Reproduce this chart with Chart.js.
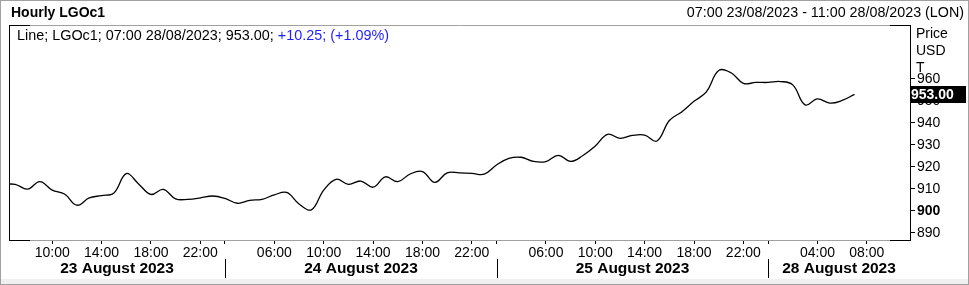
<!DOCTYPE html>
<html>
<head>
<meta charset="utf-8">
<script src="https://cdn.jsdelivr.net/npm/chart.js@4.4.0/dist/chart.umd.min.js"></script>
<style>
  html, body { margin: 0; padding: 0; background: #fff; }
  canvas { display: block; }
</style>
</head>
<body>
<canvas id="chart" width="969" height="285"></canvas>
<script>
// hourly bars (London time), incl. empty slots to 11:00 on the 28th
const times = [
  '23/08 06:00',
  '23/08 07:00','23/08 08:00','23/08 09:00','23/08 10:00','23/08 11:00','23/08 12:00','23/08 13:00','23/08 14:00',
  '23/08 15:00','23/08 16:00','23/08 17:00','23/08 18:00','23/08 19:00','23/08 20:00','23/08 21:00','23/08 22:00','23/08 23:00',
  '24/08 02:00','24/08 03:00','24/08 04:00','24/08 05:00','24/08 06:00','24/08 07:00','24/08 08:00','24/08 09:00',
  '24/08 10:00','24/08 11:00','24/08 12:00','24/08 13:00','24/08 14:00','24/08 15:00','24/08 16:00','24/08 17:00',
  '24/08 18:00','24/08 19:00','24/08 20:00','24/08 21:00','24/08 22:00','24/08 23:00',
  '25/08 02:00','25/08 03:00','25/08 04:00','25/08 05:00','25/08 06:00','25/08 07:00','25/08 08:00','25/08 09:00',
  '25/08 10:00','25/08 11:00','25/08 12:00','25/08 13:00','25/08 14:00','25/08 15:00','25/08 16:00','25/08 17:00',
  '25/08 18:00','25/08 19:00','25/08 20:00','25/08 21:00','25/08 22:00','25/08 23:00',
  '28/08 00:00','28/08 01:00','28/08 02:00','28/08 03:00','28/08 04:00','28/08 05:00','28/08 06:00','28/08 07:00',
  '28/08 08:00','28/08 09:00','28/08 10:00','28/08 11:00'
];

// LGOc1 close per bar (USD/T)
const prices = [
  912.0,
  912.1, 909.9, 913.3, 909.5, 907.7, 902.6, 905.9, 907.0, 908.2, 917.0, 912.3, 907.5, 909.8, 905.5, 905.3, 905.9, 906.8,
  905.7, 903.5, 904.8, 905.3, 907.3, 908.4, 903.2, 900.5, 909.5, 914.4, 912.1, 913.6, 910.8, 915.5, 913.3, 916.8,
  917.9, 913.0, 917.3, 917.3, 917.1, 916.7,
  920.9, 923.9, 924.4, 922.5, 922.4, 925.3, 922.5, 925.2, 929.5, 934.8, 933.0, 934.3, 934.5, 931.8, 941.1, 945.0,
  949.8, 954.1, 963.8, 962.8, 958.0, 958.4,
  958.4, 958.8, 957.3, 948.2, 950.9, 949.0, 950.2, 953.0
];

const xTicks = [
  '23/08 10:00','23/08 14:00','23/08 18:00','23/08 22:00',
  '24/08 06:00','24/08 10:00','24/08 14:00','24/08 18:00','24/08 22:00',
  '25/08 06:00','25/08 10:00','25/08 14:00','25/08 18:00','25/08 22:00',
  '28/08 04:00','28/08 08:00'
];
const daySeparators = ['24/08 02:00', '25/08 02:00', '28/08 00:00'];
const dayLabels = ['23 August 2023', '24 August 2023', '25 August 2023', '28 August 2023'];
const yTicks = [890, 900, 910, 920, 930, 940, 950, 960];

const firstShown = '23/08 07:00';
const lastPrice = 953.00;
const FONT = 'Arial, "Liberation Sans", sans-serif';

// frame, titles, day labels and the last-price box
const decor = {
  id: 'decor',
  beforeDraw(chart) {
    const ctx = chart.ctx;
    ctx.save();
    ctx.fillStyle = '#fff';
    ctx.fillRect(0, 0, chart.width, chart.height);
    ctx.restore();
  },
  afterDraw(chart) {
    const { ctx, chartArea: a, scales: { x, y } } = chart;
    ctx.save();

    // plot frame: grey top/bottom with black corners, black left edge
    ctx.lineWidth = 1;
    ctx.strokeStyle = '#a0a0a0';
    ctx.beginPath();
    ctx.moveTo(a.left, a.top + 0.5); ctx.lineTo(a.right, a.top + 0.5);
    ctx.moveTo(a.left, a.bottom + 0.5); ctx.lineTo(a.right, a.bottom + 0.5);
    ctx.stroke();
    ctx.strokeStyle = '#000';
    ctx.beginPath();
    ctx.moveTo(a.left + 0.5, a.top); ctx.lineTo(a.left + 0.5, a.bottom + 1);
    ctx.moveTo(a.left, a.top + 0.5); ctx.lineTo(a.left + 21, a.top + 0.5);
    ctx.moveTo(a.left, a.bottom + 0.5); ctx.lineTo(a.left + 21, a.bottom + 0.5);
    ctx.moveTo(a.right - 20, a.top + 0.5); ctx.lineTo(a.right, a.top + 0.5);
    ctx.moveTo(a.right - 20, a.bottom + 0.5); ctx.lineTo(a.right, a.bottom + 0.5);
    ctx.stroke();

    // header
    ctx.textBaseline = 'middle';
    ctx.fillStyle = '#000';
    ctx.font = 'bold 14px ' + FONT;
    ctx.textAlign = 'left';
    ctx.fillText('Hourly LGOc1', 11, 13);
    ctx.font = '14.3px ' + FONT;
    ctx.textAlign = 'right';
    ctx.fillText('07:00 23/08/2023 - 11:00 28/08/2023 (LON)', 964, 13);

    // in-chart legend line
    ctx.textAlign = 'left';
    ctx.font = '14.4px ' + FONT;
    const part1 = 'Line; LGOc1; 07:00 28/08/2023; 953.00; ';
    ctx.fillText(part1, 17, 36);
    ctx.fillStyle = '#1e1eff';
    ctx.fillText('+10.25; (+1.09%)', 17 + ctx.measureText(part1).width, 36);

    // axis unit
    ctx.fillStyle = '#000';
    ctx.font = '14px ' + FONT;
    ctx.fillText('Price', 916, 34);
    ctx.fillText('USD', 916, 51);
    ctx.fillText('T', 916, 68);

    // last price box
    const py = Math.round(y.getPixelForValue(lastPrice));
    ctx.fillStyle = '#000';
    ctx.fillRect(a.right, py - 8, 56, 17);
    ctx.fillStyle = '#fff';
    ctx.font = 'bold 14px ' + FONT;
    ctx.fillText(lastPrice.toFixed(2), a.right + 1, py + 1);

    // day separators and day labels
    const seps = daySeparators.map(t => Math.round(x.getPixelForValue(times.indexOf(t))));
    ctx.strokeStyle = '#000';
    ctx.beginPath();
    seps.forEach(px => { ctx.moveTo(px + 0.5, 259); ctx.lineTo(px + 0.5, 278); });
    ctx.stroke();
    const edges = [a.left, ...seps, a.right];
    ctx.font = 'bold 15.5px ' + FONT;
    ctx.fillStyle = '#000';
    ctx.textAlign = 'center';
    dayLabels.forEach((d, i) => ctx.fillText(d, (edges[i] + edges[i + 1]) / 2, 269));

    // bottom strip and outer border
    ctx.fillStyle = '#f0f0f0';
    ctx.fillRect(0, 279, chart.width, chart.height - 279);
    ctx.strokeStyle = '#a0a0a0';
    ctx.strokeRect(0.5, 0.5, chart.width - 1, chart.height - 1);
    ctx.restore();
  }
};

new Chart(document.getElementById('chart'), {
  type: 'line',
  data: {
    labels: times,
    datasets: [{
      data: prices,
      borderColor: '#000',
      borderWidth: 1.3,
      pointRadius: 0,
      tension: 0.4,
      fill: false
    }]
  },
  options: {
    responsive: false,
    animation: false,
    layout: { padding: { top: 25, left: 9, right: 0, bottom: 0 } },
    plugins: { legend: { display: false }, tooltip: { enabled: false } },
    scales: {
      x: {
        type: 'category',
        min: firstShown,
        offset: true,
        border: { display: false },
        grid: { drawOnChartArea: false, offset: false, tickLength: 4, tickColor: '#000' },
        afterBuildTicks(scale) {
          const keep = new Set([...xTicks, ...daySeparators].map(t => times.indexOf(t)));
          scale.ticks = scale.ticks.filter(t => keep.has(t.value));
        },
        afterFit(scale) { scale.height = 45; },
        ticks: {
          autoSkip: false,
          maxRotation: 0,
          padding: 1,
          color: '#000',
          font: { family: FONT, size: 14 },
          callback(v) {
            const t = times[v];
            return xTicks.includes(t) ? t.slice(6) : '';
          }
        }
      },
      y: {
        position: 'right',
        min: 886.8,
        max: 984.5,
        border: { display: true, color: '#000' },
        grid: { drawOnChartArea: false, tickLength: 5, tickColor: '#000' },
        afterBuildTicks(scale) { scale.ticks = yTicks.map(v => ({ value: v })); },
        afterFit(scale) { scale.width = 59; },
        ticks: {
          padding: 2,
          color: '#000',
          font: ctx => ({ family: FONT, size: 14, weight: ctx.tick && ctx.tick.value === 900 ? 'bold' : 'normal' }),
          callback: v => String(v)
        }
      }
    }
  },
  plugins: [decor]
});
</script>
</body>
</html>
